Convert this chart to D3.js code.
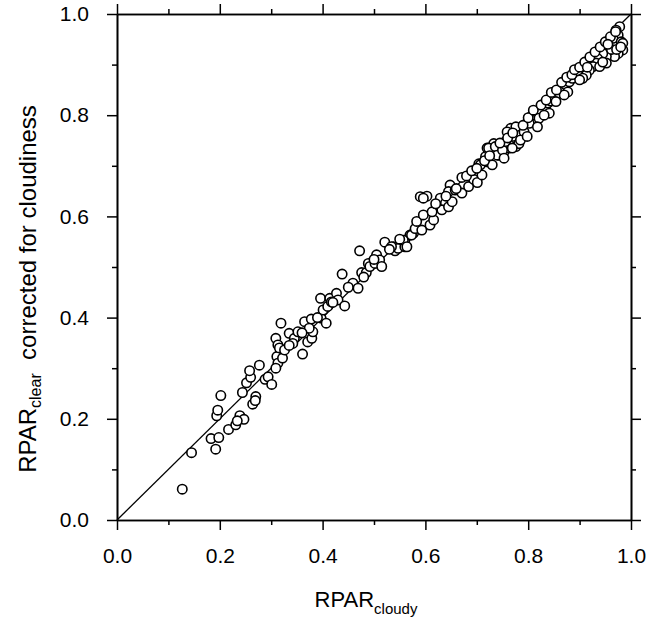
<!DOCTYPE html>
<html>
<head>
<meta charset="utf-8">
<script src="https://cdn.jsdelivr.net/npm/d3@7"></script>
<style>
  body { margin: 0; background: #fff; }
  svg text { font-family: "Liberation Sans", Arial, sans-serif; fill: #000; }
</style>
</head>
<body>
<script>
// RPAR cloudy (x) vs RPAR clear corrected for cloudiness (y)
const rparCloudy = [
  0.127, 0.145, 0.192, 0.183, 0.198, 0.217, 0.231, 0.239, 0.247, 0.234,
  0.194, 0.196, 0.202, 0.244, 0.264, 0.270, 0.269, 0.252, 0.260, 0.258,
  0.277, 0.288, 0.294, 0.301, 0.309, 0.313, 0.318, 0.311, 0.313, 0.322,
  0.309, 0.335, 0.345, 0.352, 0.361, 0.371, 0.379, 0.381, 0.316, 0.326,
  0.319, 0.342, 0.365, 0.378, 0.374, 0.397, 0.407, 0.401, 0.410, 0.396,
  0.414, 0.427, 0.430, 0.443, 0.417, 0.438, 0.459, 0.469, 0.476, 0.485,
  0.489, 0.492, 0.472, 0.502, 0.505, 0.511, 0.515, 0.521, 0.538, 0.541,
  0.547, 0.560, 0.560, 0.570, 0.577, 0.534, 0.557, 0.564, 0.573, 0.580,
  0.593, 0.583, 0.596, 0.609, 0.616, 0.613, 0.590, 0.603, 0.596, 0.629,
  0.639, 0.632, 0.645, 0.652, 0.648, 0.645, 0.658, 0.671, 0.671, 0.684,
  0.694, 0.701, 0.710, 0.704, 0.720, 0.730, 0.720, 0.733, 0.743, 0.753,
  0.762, 0.776, 0.782, 0.707, 0.717, 0.723, 0.736, 0.740, 0.750, 0.756,
  0.769, 0.779, 0.766, 0.759, 0.776, 0.792, 0.785, 0.802, 0.808, 0.815,
  0.824, 0.821, 0.834, 0.838, 0.844, 0.851, 0.860, 0.867, 0.873, 0.880,
  0.886, 0.893, 0.896, 0.854, 0.841, 0.831, 0.818, 0.798, 0.769, 0.753,
  0.978, 0.971, 0.975, 0.965, 0.981, 0.984, 0.975, 0.968, 0.958, 0.952,
  0.945, 0.935, 0.932, 0.926, 0.919, 0.913, 0.906, 0.900, 0.877, 0.870,
  0.952, 0.939, 0.984, 0.620, 0.640, 0.660, 0.680, 0.690, 0.700, 0.715,
  0.725, 0.745, 0.760, 0.770, 0.790, 0.800, 0.810, 0.825, 0.835, 0.845,
  0.855, 0.865, 0.875, 0.885, 0.890, 0.900, 0.910, 0.920, 0.930, 0.940,
  0.950, 0.960, 0.970, 0.962, 0.972, 0.980, 0.955, 0.945, 0.915, 0.550,
  0.530, 0.500, 0.480, 0.450, 0.420, 0.390, 0.360, 0.335
]
const rparClearCorr = [
  0.061, 0.133, 0.140, 0.161, 0.163, 0.179, 0.188, 0.206, 0.199, 0.196,
  0.206, 0.217, 0.246, 0.252, 0.229, 0.244, 0.236, 0.271, 0.282, 0.295,
  0.306, 0.278, 0.283, 0.268, 0.359, 0.346, 0.335, 0.323, 0.310, 0.320,
  0.300, 0.369, 0.359, 0.372, 0.328, 0.352, 0.359, 0.372, 0.340, 0.336,
  0.389, 0.349, 0.392, 0.397, 0.379, 0.399, 0.389, 0.415, 0.422, 0.438,
  0.438, 0.448, 0.435, 0.423, 0.431, 0.486, 0.468, 0.458, 0.489, 0.489,
  0.507, 0.501, 0.532, 0.507, 0.524, 0.514, 0.501, 0.549, 0.540, 0.532,
  0.537, 0.553, 0.540, 0.563, 0.567, 0.540, 0.553, 0.540, 0.563, 0.576,
  0.573, 0.590, 0.603, 0.583, 0.593, 0.609, 0.639, 0.640, 0.636, 0.636,
  0.626, 0.613, 0.619, 0.629, 0.662, 0.649, 0.652, 0.677, 0.646, 0.659,
  0.673, 0.667, 0.682, 0.704, 0.708, 0.702, 0.735, 0.744, 0.721, 0.728,
  0.735, 0.738, 0.744, 0.702, 0.718, 0.735, 0.738, 0.721, 0.731, 0.748,
  0.758, 0.767, 0.774, 0.767, 0.777, 0.767, 0.751, 0.784, 0.800, 0.807,
  0.808, 0.794, 0.817, 0.824, 0.828, 0.837, 0.843, 0.853, 0.860, 0.866,
  0.873, 0.880, 0.886, 0.827, 0.804, 0.800, 0.777, 0.758, 0.735, 0.715,
  0.975, 0.968, 0.958, 0.952, 0.945, 0.929, 0.922, 0.916, 0.929, 0.916,
  0.922, 0.912, 0.903, 0.896, 0.889, 0.879, 0.873, 0.870, 0.846, 0.840,
  0.903, 0.896, 0.942, 0.625, 0.640, 0.655, 0.680, 0.690, 0.695, 0.710,
  0.720, 0.745, 0.755, 0.765, 0.780, 0.795, 0.810, 0.820, 0.830, 0.845,
  0.850, 0.865, 0.875, 0.880, 0.890, 0.895, 0.905, 0.915, 0.925, 0.935,
  0.945, 0.955, 0.965, 0.930, 0.930, 0.935, 0.940, 0.905, 0.895, 0.555,
  0.535, 0.515, 0.480, 0.460, 0.430, 0.400, 0.370, 0.345
]
const majorTicks = [0, 0.2, 0.4, 0.6, 0.8, 1.0]
const minorTicks = [0.1, 0.3, 0.5, 0.7, 0.9]

var w = 652
var h = 619

const points = rparCloudy.map((v, i) => [v, rparClearCorr[i]])

const xScale = d3.scaleLinear().domain([0, 1]).range([117, 631])
const yScale = d3.scaleLinear().domain([0, 1]).range([520, 14])

const svg = d3.select("body")
  .append("svg")
  .attr("width", w)
  .attr("height", h)

const fmt = d3.format(".1f")

// axes: majors with labels on bottom/left, plain ticks elsewhere
function drawAxis(axisFn, scale, transform, ticks, size, labels) {
  const g = svg.append("g")
    .attr("transform", transform)
    .call(axisFn(scale).tickValues(ticks).tickSize(size).tickSizeOuter(0)
      .tickPadding(labels ? 18 : 0)
      .tickFormat(labels ? fmt : ""))
  g.select(".domain").attr("stroke", "#000").attr("stroke-width", 1.6)
  g.selectAll(".tick line").attr("stroke", "#000").attr("stroke-width", 1.5)
  g.selectAll("text").style("font-size", "21px")
  return g
}

drawAxis(d3.axisBottom, xScale, "translate(0,520)", majorTicks, 10, true)
drawAxis(d3.axisBottom, xScale, "translate(0,520)", minorTicks, 5, false)
drawAxis(d3.axisTop, xScale, "translate(0,14)", majorTicks, 10, false)
drawAxis(d3.axisTop, xScale, "translate(0,14)", minorTicks, 5, false)
drawAxis(d3.axisLeft, yScale, "translate(117,0)", majorTicks, 10, true)
drawAxis(d3.axisLeft, yScale, "translate(117,0)", minorTicks, 5, false)
drawAxis(d3.axisRight, yScale, "translate(631,0)", majorTicks, 10, false)
drawAxis(d3.axisRight, yScale, "translate(631,0)", minorTicks, 5, false)

// 1:1 line
svg.append("line")
  .attr("x1", xScale(0))
  .attr("y1", yScale(0))
  .attr("x2", xScale(1))
  .attr("y2", yScale(1))
  .attr("stroke", "#000")
  .attr("stroke-width", 1.3)

svg.selectAll("circle")
  .data(points)
  .enter()
  .append("circle")
  .attr("cx", d => xScale(d[0]))
  .attr("cy", d => yScale(d[1]))
  .attr("r", 4.7)
  .attr("fill", "#fff")
  .attr("stroke", "#000")
  .attr("stroke-width", 1.6)

// x title
const xt = svg.append("text")
  .attr("x", 366)
  .attr("y", 607)
  .attr("text-anchor", "middle")
  .style("font-size", "22px")
xt.append("tspan").text("RPAR")
xt.append("tspan").attr("dy", 7).style("font-size", "15px").text("cloudy")

// y title
const yt = svg.append("text")
  .attr("transform", "translate(36,289) rotate(-90)")
  .attr("text-anchor", "middle")
  .style("font-size", "24px")
yt.append("tspan").text("RPAR")
yt.append("tspan").attr("dy", 5).style("font-size", "16px").text("clear")
yt.append("tspan").attr("dy", -5).text("\u00a0 corrected for cloudiness")
</script>
</body>
</html>
